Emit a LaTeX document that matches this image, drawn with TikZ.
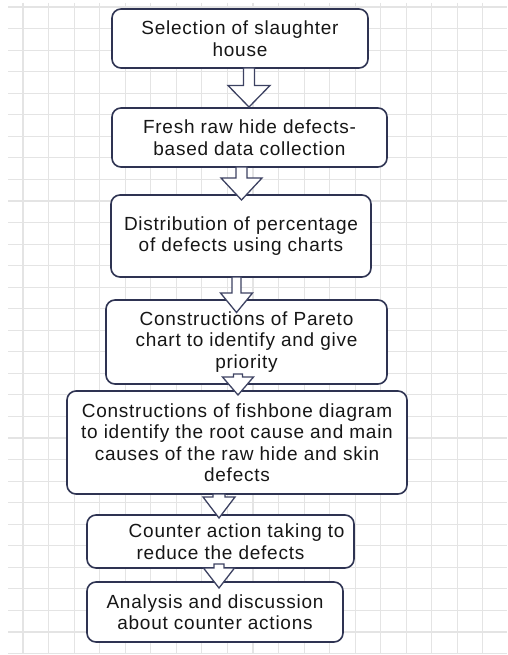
\documentclass[tikz,border=0pt]{standalone}
\usepackage{fontspec}
\setmainfont[LetterSpace=4]{Liberation Sans}
\definecolor{boxc}{HTML}{2E3352}
\definecolor{arrc}{HTML}{3D4262}
\definecolor{txtc}{HTML}{161616}
\definecolor{gridc}{HTML}{E4E4E4}
\newcommand\blockarrow[6]{%
  \draw[barrow] ({#1-#5},#2) -- ({#1-#5},#3) -- ({#1-#6},#3) -- (#1,#4) -- ({#1+#6},#3) -- ({#1+#5},#3) -- ({#1+#5},#2) -- cycle;}
\begin{document}
\begin{tikzpicture}[x=1pt,y=-1pt,
  gridl/.style={draw=gridc, line width=1.1pt},
  box/.style={draw=boxc, line width=1.6pt, rounded corners=9pt, fill=white,
    inner sep=0pt, align=center, text=txtc,
    font=\fontsize{19}{21.5}\selectfont},
  barrow/.style={draw=arrc, line width=1.3pt, fill=white, line join=miter}]
\useasboundingbox (0,0) rectangle (507,655);
\fill[white] (0,0) rectangle (507,655);
% grid
\foreach \k in {0,...,30} \draw[gridl] (8,{7+21.55*\k}) -- (507,{7+21.55*\k});
\foreach \k in {0,...,18} \draw[gridl] ({23+25.55*\k},3) -- ({23+25.55*\k},654);
% boxes
\node[box, minimum width=256pt, minimum height=59pt] (b1) at (240,38.5)
  {Selection of slaughter\\house};
\node[box, minimum width=275pt, minimum height=59pt] (b2) at (249.5,137.5)
  {Fresh raw hide defects-\\based data collection};
\node[box, minimum width=260pt, minimum height=82pt] (b3) at (241,236)
  {Distribution of percentage\\of defects using charts};
\node[box, minimum width=281pt, minimum height=84pt] (b4) at (246.5,342)
  {Constructions of Pareto\\chart to identify and give\\priority};
\node[box, minimum width=340pt, minimum height=103pt] (b5) at (237,442.5)
  {Constructions of fishbone diagram\\to identify the root cause and main\\causes of the raw hide and skin\\defects};
\node[box, minimum width=267pt, minimum height=53pt] (b6) at (220.5,541.5)
  {\hspace*{1.7em}Counter action taking to\\reduce the defects};
\node[box, minimum width=256pt, minimum height=60pt] (b7) at (215,612)
  {Analysis and discussion\\about counter actions};
% block arrows
\blockarrow{249}{68}{85.5}{107}{5.5}{21}
\blockarrow{241.5}{167}{178}{200}{5.5}{20.5}
\blockarrow{236.5}{277}{293}{312.5}{4.5}{16}
\blockarrow{238}{374}{377}{395}{4.5}{15.5}
\blockarrow{219}{494}{497}{518}{6}{16}
\blockarrow{219}{564}{568}{588}{5}{15.5}
\end{tikzpicture}
\end{document}
